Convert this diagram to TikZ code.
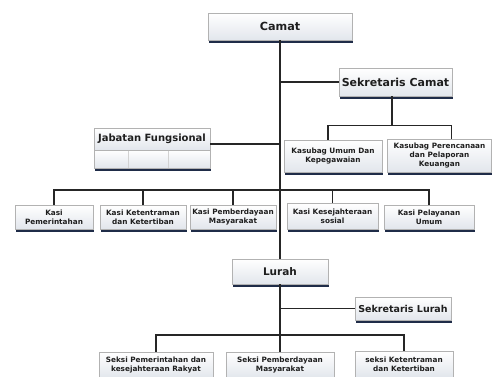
\documentclass[tikz,border=0pt]{standalone}
\usepackage{fontspec}
\setmainfont{DejaVu Sans}
\usetikzlibrary{shadows}
\definecolor{navy}{HTML}{1F2C48}
\definecolor{slate}{HTML}{E2E6EC}
\definecolor{ink}{HTML}{1E1E1E}
\tikzset{
  cell/.style={draw=gray!60, top color=white, bottom color=slate, text=ink, align=center, inner sep=1pt},
  box/.style={cell, drop shadow={shadow xshift=0.8pt, shadow yshift=-2.8pt, fill=navy, opacity=1}},
  smalltext/.style={font=\bfseries\fontsize{7.3}{9}\selectfont},
  bigtext/.style={font=\bfseries\fontsize{9.5}{11}\selectfont},
  link/.style={draw=black!85, line width=1.1pt}
}
\begin{document}
\begin{tikzpicture}[x=1pt,y=-1pt]
\useasboundingbox[fill=white] (0,0) rectangle (493,376);
% kecamatan
\node[box,font=\bfseries\fontsize{11.2}{13}\selectfont,minimum width=144pt,minimum height=27pt] (camat) at (280,26.5) {Camat};
\node[box,font=\bfseries\fontsize{11}{13}\selectfont,minimum width=113pt,minimum height=28pt] (sekcamat) at (395.5,82) {Sekretaris Camat};
\node[box,smalltext,minimum width=98pt,minimum height=32pt] (kasubag1) at (333,156) {Kasubag Umum Dan\\Kepegawaian};
\node[box,smalltext,minimum width=104pt,minimum height=33pt] (kasubag2) at (439.5,155.5) {Kasubag Perencanaan\\dan Pelaporan\\Keuangan};
%\node for jabatan fungsional: title + empty row
\node[cell,font=\bfseries\fontsize{10}{12}\selectfont,minimum width=116pt,minimum height=22pt] (jabtitle) at (152,139) {Jabatan Fungsional};
\node[box,minimum width=116pt,minimum height=18pt] (jabrow) at (152,159) {};
\foreach \x in {128,168}
    \draw[gray!35] (\x,150.5) -- (\x,167.5);
% kasi
\node[box,smalltext,minimum width=78pt,minimum height=24pt] (kasi1) at (54,217) {Kasi\\Pemerintahan};
\node[box,smalltext,minimum width=86pt,minimum height=24pt] (kasi2) at (143,217) {Kasi Ketentraman\\dan Ketertiban};
\node[box,smalltext,minimum width=86pt,minimum height=24pt] (kasi3) at (233,217) {Kasi Pemberdayaan\\Masyarakat};
\node[box,smalltext,minimum width=91pt,minimum height=26pt] (kasi4) at (332.5,216) {Kasi Kesejahteraan\\sosial};
\node[box,smalltext,minimum width=90pt,minimum height=24pt] (kasi5) at (429,217) {Kasi Pelayanan\\Umum};
% kelurahan
\node[box,font=\bfseries\fontsize{10.5}{12}\selectfont,minimum width=96pt,minimum height=25pt] (lurah) at (280,271.5) {Lurah};
\node[box,bigtext,minimum width=96pt,minimum height=23pt] (seklurah) at (403,308.5) {Sekretaris Lurah};
\node[box,smalltext,minimum width=114pt,minimum height=26pt] (seksi1) at (156,365) {Seksi Pemerintahan dan\\kesejahteraan Rakyat};
\node[box,smalltext,minimum width=108pt,minimum height=26pt] (seksi2) at (280,365) {Seksi Pemberdayaan\\Masyarakat};
\node[box,smalltext,minimum width=98pt,minimum height=26pt] (seksi3) at (404,364) {seksi Ketentraman\\dan Ketertiban};
% garis
\draw[link] (camat.south) -- (camat.south |- lurah.north);
\draw[link] (sekcamat.west) -- (sekcamat.west -| camat.south);
\draw[link] ([xshift=-3.5pt]sekcamat.south) -- ++(0,29) coordinate (sekbus);
\draw[link] ([xshift=-5pt]kasubag1.north) |- (sekbus) -| ([xshift=12pt]kasubag2.north);
\draw[link] ([yshift=-5pt]jabtitle.east) -- ([yshift=-5pt]jabtitle.east -| camat.south);
\coordinate (kasibus) at (280,190);
\draw[link] (kasi1.north) |- (kasibus) -| (kasi5.north);
\foreach \k in {2,3,4}
    \draw[link] (kasi\k.north) -- (kasi\k.north |- kasibus);
\draw[link] (seklurah.west) -- (seklurah.west -| lurah.south);
\draw[link] (lurah.south) -- (seksi2.north);
\coordinate (seksibus) at (280,335);
\draw[link] (seksi1.north) |- (seksibus) -| (seksi3.north);
\end{tikzpicture}
\end{document}
